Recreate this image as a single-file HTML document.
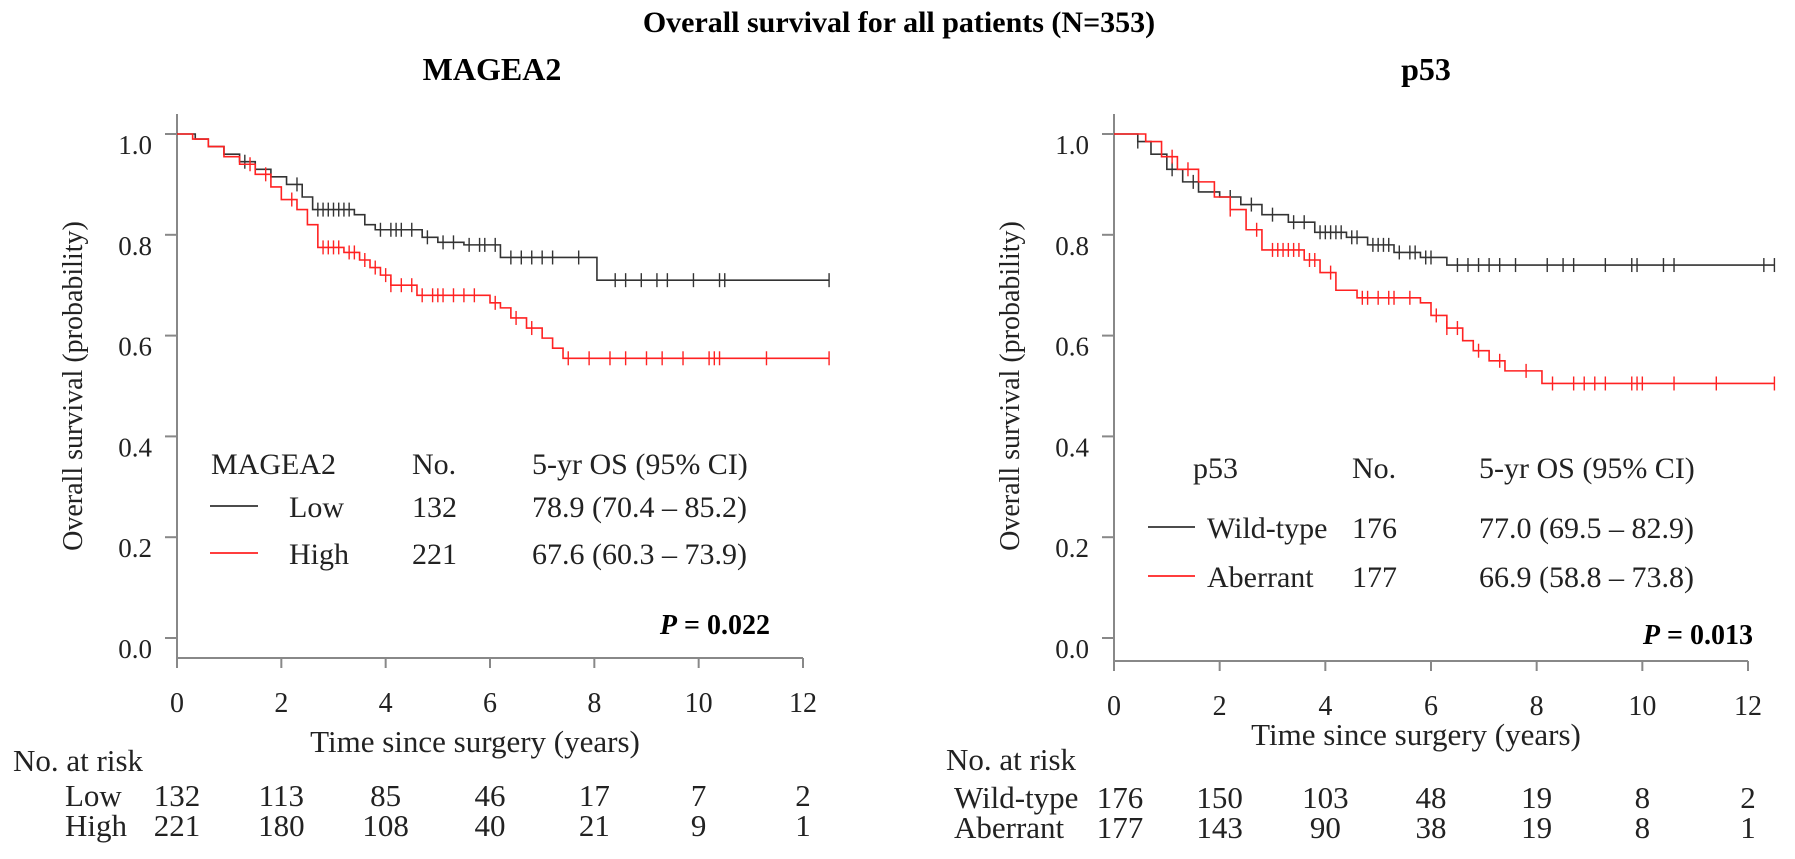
<!DOCTYPE html>
<html><head><meta charset="utf-8"><style>
body{margin:0;background:#fff;}
svg{display:block;font-family:"Liberation Serif",serif;}
</style></head><body>
<svg id="fig" width="1795" height="859" viewBox="0 0 1795 859">
<text x="899" y="32" text-anchor="middle" font-size="30" font-weight="bold">Overall survival for all patients (N=353)</text>
</svg>
<script>
// MAGEA2 panel data
const ticksX = [0,2,4,6,8,10,12];
const ticksY = [0.0,0.2,0.4,0.6,0.8,1.0];
const magLowT = [0,0.35,0.6,0.9,1.2,1.5,1.8,2.1,2.4,2.6,3.4,3.6,3.8,4.7,5.0,5.5,6.2,8.05];
const magLowS = [1,0.99,0.975,0.96,0.945,0.93,0.915,0.90,0.875,0.85,0.84,0.82,0.81,0.795,0.785,0.78,0.755,0.71];
const magLowC = [1.3,2.3,2.7,2.8,2.9,3.0,3.1,3.2,3.3,3.9,4.1,4.2,4.3,4.5,4.8,5.1,5.3,5.6,5.8,5.9,6.1,6.4,6.6,6.8,7.0,7.2,7.7,8.4,8.6,8.9,9.2,9.4,9.9,10.4,10.5,12.5];
const magHighT = [0,0.3,0.6,0.9,1.2,1.5,1.8,2.0,2.3,2.5,2.7,3.2,3.5,3.7,3.9,4.1,4.6,6.0,6.2,6.4,6.7,7.0,7.2,7.4];
const magHighS = [1,0.99,0.975,0.955,0.94,0.92,0.895,0.87,0.85,0.82,0.775,0.765,0.75,0.735,0.72,0.70,0.68,0.665,0.655,0.635,0.615,0.595,0.575,0.555];
const magHighC = [1.4,1.7,2.2,2.8,2.9,3.0,3.1,3.3,3.4,3.6,3.8,4.0,4.1,4.3,4.5,4.7,4.9,5.0,5.1,5.3,5.5,5.7,6.1,6.5,6.8,7.5,7.9,8.3,8.6,9.0,9.3,9.7,10.2,10.3,10.4,11.3,12.5];
// p53 panel data
const p53WildT = [0,0.45,0.7,1.0,1.3,1.6,2.0,2.4,2.8,3.3,3.8,4.4,4.8,5.3,5.8,6.3];
const p53WildS = [1,0.985,0.96,0.93,0.905,0.885,0.875,0.86,0.84,0.825,0.805,0.795,0.78,0.765,0.755,0.74];
const p53WildC = [0.45,1.1,1.5,2.2,2.6,3.0,3.4,3.6,3.9,4.0,4.1,4.2,4.3,4.5,4.6,4.9,5.0,5.1,5.2,5.4,5.6,5.7,5.9,6.0,6.5,6.7,6.9,7.1,7.3,7.6,8.2,8.5,8.7,9.3,9.8,9.9,10.4,10.6,12.3,12.5];
const p53AbT = [0,0.6,0.9,1.2,1.6,1.9,2.2,2.5,2.8,3.6,3.9,4.2,4.6,5.8,6.0,6.3,6.6,6.8,7.1,7.4,8.1];
const p53AbS = [1,0.985,0.955,0.93,0.905,0.875,0.85,0.81,0.77,0.75,0.725,0.69,0.675,0.665,0.64,0.615,0.59,0.57,0.55,0.53,0.505];
const p53AbC = [1.1,1.4,2.2,2.7,3.0,3.1,3.2,3.3,3.4,3.5,3.7,3.8,4.1,4.7,4.8,5.0,5.2,5.3,5.6,6.1,6.3,6.5,6.9,7.3,7.8,8.3,8.7,8.9,9.1,9.3,9.8,9.9,10.0,10.6,11.4,12.5];
const magRiskLow = ["132","113","85","46","17","7","2"];
const magRiskHigh = ["221","180","108","40","21","9","1"];
const p53RiskWild = ["176","150","103","48","19","8","2"];
const p53RiskAb = ["177","143","90","38","19","8","1"];

const NS="http://www.w3.org/2000/svg";
const svg=document.getElementById('fig');
function mk(tag,attrs,parent,text){const e=document.createElementNS(NS,tag);for(const k in attrs)e.setAttribute(k,attrs[k]);if(text!==undefined)e.textContent=text;(parent||svg).appendChild(e);return e;}

function panel(cfg){
  const g=mk('g',{});
  
  
  const X=t=>cfg.x0+(cfg.x12-cfg.x0)*t/12;
  const Y=s=>cfg.y0+(cfg.y1-cfg.y0)*s;
  const ax=mk('g',{stroke:'#888','stroke-width':2,fill:'none'},g);
  
  
  mk('line',{x1:cfg.x0,y1:cfg.yTop,x2:cfg.x0,y2:cfg.axisY+8},ax);
  mk('line',{x1:cfg.x0,y1:cfg.axisY,x2:cfg.x12,y2:cfg.axisY},ax);
  ticksY.forEach(v=>{
    mk('line',{x1:cfg.x0-12,y1:Y(v),x2:cfg.x0,y2:Y(v)},ax);
    const t=mk('text',{x:cfg.x0-25,y:Y(v)+20,'text-anchor':'end','font-size':27,fill:'#222'},g,v.toFixed(1));
    
    
  });
  ticksX.forEach(v=>{
    mk('line',{x1:X(v),y1:cfg.axisY,x2:X(v),y2:cfg.axisY+10},ax);
    const t=mk('text',{x:X(v),y:cfg.axisY+54,'text-anchor':'middle','font-size':28,fill:'#222'},g,String(v));
    
    
  });
  const yt=mk('text',{x:0,y:0,transform:`translate(${cfg.x0-95},${(cfg.y0+cfg.y1)/2}) rotate(-90)`,'text-anchor':'middle','font-size':28,fill:'#222'},g,'Overall survival (probability)');
  
  
  const xt=mk('text',{x:(cfg.x0+cfg.x12)/2-15,y:cfg.titleY,'text-anchor':'middle','font-size':31,fill:'#222'},g,'Time since surgery (years)');
  
  
  const tt=mk('text',{x:cfg.titleX,y:80,'text-anchor':'middle','font-size':32,'font-weight':'bold'},g,cfg.title);
  
  
  cfg.series.forEach(s=>{
    let d=`M${X(0)},${Y(1)}`;
    for(let i=1;i<s.t.length;i++){d+=` H${X(s.t[i])} V${Y(s.s[i])}`;}
    d+=` H${X(12.5)}`;
    const p=mk('path',{d:d,stroke:s.color,'stroke-width':1.6,fill:'none'},g);
    
    
    const cg=mk('g',{stroke:s.color,'stroke-width':1.4},g);
    
    
    s.c.forEach(ct=>{
      let sv=1;for(let i=0;i<s.t.length;i++){if(s.t[i]<=ct)sv=s.s[i];}
      const m=mk('line',{x1:X(ct),y1:Y(sv)-7,x2:X(ct),y2:Y(sv)+7},cg);
      
      
    });
  });
  // legend
  const lg=mk('g',{'font-size':30,fill:'#222'},g);
  
  
  mk('text',{x:cfg.lg.hx,y:cfg.lg.hy},lg,cfg.lg.head);
  mk('text',{x:cfg.lg.nx,y:cfg.lg.hy},lg,'No.');
  mk('text',{x:cfg.lg.ox,y:cfg.lg.hy},lg,'5-yr OS (95% CI)');
  cfg.lg.rows.forEach(r=>{
    const e=mk('g',{},lg);
    
    
    mk('line',{x1:cfg.lg.l1,y1:r.y-11,x2:cfg.lg.l2,y2:r.y-11,stroke:r.color,'stroke-width':1.8},e);
    mk('text',{x:cfg.lg.tx,y:r.y},e,r.label);
    mk('text',{x:cfg.lg.nx,y:r.y},e,r.n);
    mk('text',{x:cfg.lg.ox,y:r.y},e,r.os);
  });
  const pv=mk('text',{x:cfg.px,y:cfg.py,'text-anchor':'end','font-size':28,'font-weight':'bold'},g);
  
  
  mk('tspan',{'font-style':'italic'},pv,'P');
  mk('tspan',{},pv,' = '+cfg.p);
  // risk table
  const rt=mk('g',{'font-size':31,fill:'#222'},g);
  
  
  mk('text',{x:cfg.risk.x,y:cfg.risk.hy},rt,'No. at risk');
  cfg.risk.rows.forEach(r=>{
    mk('text',{x:cfg.risk.lx,y:r.y},rt,r.label);
    r.vals.forEach((v,i)=>{mk('text',{x:X(ticksX[i])+(i===0?cfg.risk.off:0),y:r.y,'text-anchor':'middle'},rt,v);});
  });
}

panel({name:'magea2',title:'MAGEA2',titleX:492,x0:177,x12:803,y0:638,y1:134,yTop:114,axisY:658,titleY:752,
  series:[{label:'low',color:'#333',t:magLowT,s:magLowS,c:magLowC},{label:'high',color:'#f22',t:magHighT,s:magHighS,c:magHighC}],
  lg:{head:'MAGEA2',hx:211,hy:474,nx:412,ox:532,l1:210,l2:258,tx:289,rows:[{y:517,color:'#333',label:'Low',n:'132',os:'78.9 (70.4 – 85.2)'},{y:564,color:'#f22',label:'High',n:'221',os:'67.6 (60.3 – 73.9)'}]},
  px:770,py:634,p:'0.022',
  risk:{x:13,lx:65,off:0,hy:771,rows:[{y:806,label:'Low',vals:magRiskLow},{y:836,label:'High',vals:magRiskHigh}]}
});
panel({name:'p53',title:'p53',titleX:1426,x0:1114,x12:1748,y0:638,y1:134,yTop:114,axisY:661,titleY:745,
  series:[{label:'wild-type',color:'#333',t:p53WildT,s:p53WildS,c:p53WildC},{label:'aberrant',color:'#f22',t:p53AbT,s:p53AbS,c:p53AbC}],
  lg:{head:'p53',hx:1193,hy:478,nx:1352,ox:1479,l1:1148,l2:1195,tx:1207,rows:[{y:538,color:'#333',label:'Wild-type',n:'176',os:'77.0 (69.5 – 82.9)'},{y:587,color:'#f22',label:'Aberrant',n:'177',os:'66.9 (58.8 – 73.8)'}]},
  px:1753,py:644,p:'0.013',
  risk:{x:946,lx:954,off:6,hy:770,rows:[{y:808,label:'Wild-type',vals:p53RiskWild},{y:838,label:'Aberrant',vals:p53RiskAb}]}
});
</script>
</body></html>
